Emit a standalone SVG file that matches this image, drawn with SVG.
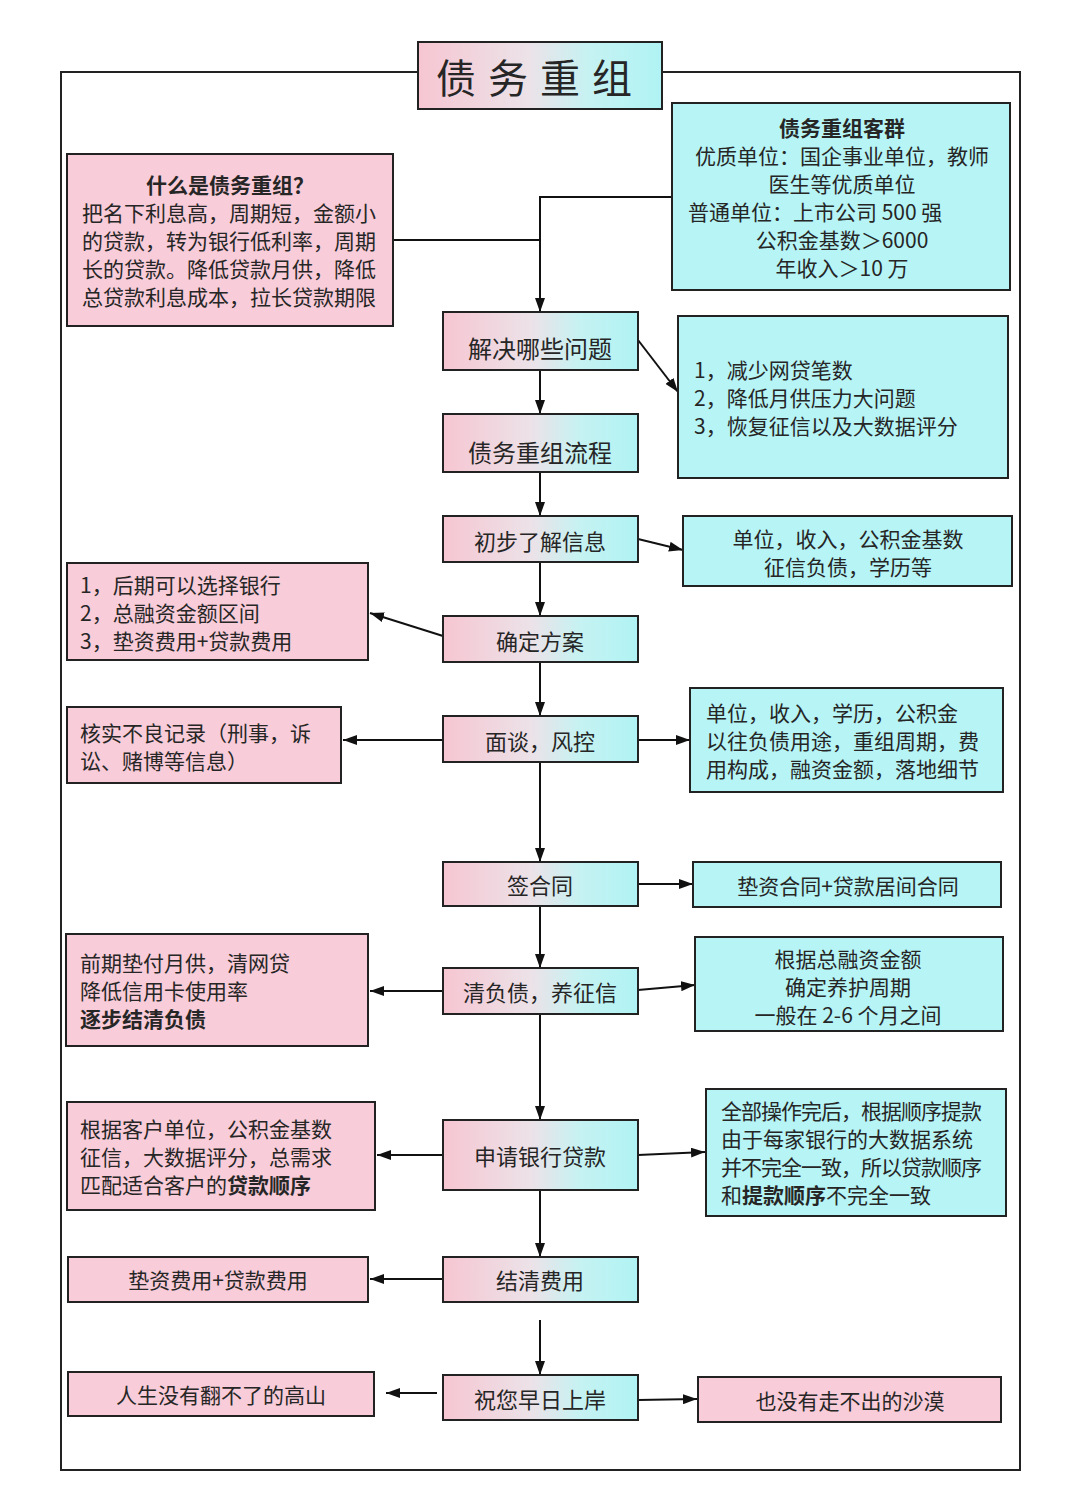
<svg xmlns="http://www.w3.org/2000/svg" width="1080" height="1512" viewBox="0 0 1080 1512">
<defs>
<linearGradient id="pc" x1="0" y1="0" x2="1" y2="0">
<stop offset="0" stop-color="#f6c6d2"/>
<stop offset="0.45" stop-color="#ece2e8"/>
<stop offset="0.7" stop-color="#c6f2f2"/>
<stop offset="1" stop-color="#b0f3f4"/>
</linearGradient>
<marker id="ah" viewBox="0 0 14 10" refX="14" refY="5" markerWidth="14" markerHeight="10" markerUnits="userSpaceOnUse" orient="auto">
<path d="M0,0 L14,5 L0,10 z" fill="#111"/>
</marker>
<style>
.main{fill:url(#pc);stroke:#222;stroke-width:2}
.pink{fill:#f8ccd8;stroke:#222;stroke-width:2}
.cyan{fill:#b6f4f5;stroke:#222;stroke-width:2}
text{font-family:"Noto Sans CJK SC","Noto Sans",sans-serif;fill:#262626;font-size:21px;dominant-baseline:central}
.c{text-anchor:middle}
.m{font-size:22px;text-anchor:middle}
.b{font-weight:bold}
.con line,.con polyline{stroke:#111;stroke-width:2;fill:none}
.arr{marker-end:url(#ah)}
</style>
</defs>
<rect width="1080" height="1512" fill="#ffffff"/>

<g id="frame">
<polyline points="418,72 61,72 61,1470 1020,1470 1020,72 662,72" fill="none" stroke="#222" stroke-width="2"/>
</g>

<g class="con">
<line x1="393" y1="240" x2="540" y2="240"/>
<polyline points="672,197 540,197 540,312" class="arr"/>
<line x1="540" y1="370" x2="540" y2="414" class="arr"/>
<line x1="638" y1="340" x2="678" y2="392" class="arr"/>
<line x1="540" y1="472" x2="540" y2="516" class="arr"/>
<line x1="638" y1="539" x2="683" y2="550" class="arr"/>
<line x1="540" y1="562" x2="540" y2="616" class="arr"/>
<line x1="443" y1="636" x2="370" y2="613" class="arr"/>
<line x1="540" y1="662" x2="540" y2="716" class="arr"/>
<line x1="443" y1="740" x2="343" y2="740" class="arr"/>
<line x1="638" y1="740" x2="690" y2="740" class="arr"/>
<line x1="540" y1="762" x2="540" y2="862" class="arr"/>
<line x1="638" y1="884" x2="693" y2="884" class="arr"/>
<line x1="540" y1="906" x2="540" y2="968" class="arr"/>
<line x1="443" y1="991" x2="370" y2="991" class="arr"/>
<line x1="638" y1="990" x2="695" y2="985" class="arr"/>
<line x1="540" y1="1014" x2="540" y2="1120" class="arr"/>
<line x1="443" y1="1155" x2="377" y2="1155" class="arr"/>
<line x1="638" y1="1155" x2="705" y2="1152" class="arr"/>
<line x1="540" y1="1190" x2="540" y2="1257" class="arr"/>
<line x1="443" y1="1279" x2="370" y2="1279" class="arr"/>
<line x1="540" y1="1320" x2="540" y2="1375" class="arr"/>
<line x1="437" y1="1393" x2="386" y2="1393" class="arr"/>
<line x1="638" y1="1400" x2="697" y2="1399" class="arr"/>
</g>

<g id="title">
<rect x="418" y="42" width="244" height="67" class="main"/>
<text x="540" y="76" class="c" style="font-size:40px;letter-spacing:12px">债务重组</text>
</g>

<g id="what">
<rect x="67" y="154" width="326" height="172" class="pink"/>
<text x="230" y="184" class="c b">什么是债务重组？</text>
<text x="82" y="212">把名下利息高，周期短，金额小</text>
<text x="82" y="240">的贷款，转为银行低利率，周期</text>
<text x="82" y="268">长的贷款。降低贷款月供，降低</text>
<text x="82" y="296">总贷款利息成本，拉长贷款期限</text>
</g>

<g id="clients">
<rect x="672" y="103" width="338" height="187" class="cyan"/>
<text x="842" y="127" class="c b">债务重组客群</text>
<text x="842" y="155" class="c">优质单位：国企事业单位，教师</text>
<text x="842" y="183" class="c">医生等优质单位</text>
<text x="688" y="211">普通单位：上市公司 500 强</text>
<text x="842" y="239" class="c">公积金基数＞6000</text>
<text x="842" y="267" class="c">年收入＞10 万</text>
</g>

<g id="solve">
<rect x="443" y="312" width="195" height="58" class="main"/>
<text x="540" y="347" class="m" style="font-size:24px">解决哪些问题</text>
</g>

<g id="problems">
<rect x="678" y="316" width="330" height="162" class="cyan"/>
<text x="694" y="369">1，减少网贷笔数</text>
<text x="694" y="397">2，降低月供压力大问题</text>
<text x="694" y="425">3，恢复征信以及大数据评分</text>
</g>

<g id="process">
<rect x="443" y="414" width="195" height="58" class="main"/>
<text x="540" y="451" class="m" style="font-size:24px">债务重组流程</text>
</g>

<g id="info">
<rect x="443" y="516" width="195" height="46" class="main"/>
<text x="540" y="540" class="m">初步了解信息</text>
</g>

<g id="info-detail">
<rect x="683" y="516" width="329" height="70" class="cyan"/>
<text x="848" y="538" class="c">单位，收入，公积金基数</text>
<text x="848" y="566" class="c">征信负债，学历等</text>
</g>

<g id="plan">
<rect x="443" y="616" width="195" height="46" class="main"/>
<text x="540" y="640" class="m">确定方案</text>
</g>

<g id="plan-detail">
<rect x="67" y="563" width="301" height="97" class="pink"/>
<text x="80" y="584">1，后期可以选择银行</text>
<text x="80" y="612">2，总融资金额区间</text>
<text x="80" y="640">3，垫资费用+贷款费用</text>
</g>

<g id="interview">
<rect x="443" y="716" width="195" height="46" class="main"/>
<text x="540" y="740" class="m">面谈，风控</text>
</g>

<g id="verify">
<rect x="67" y="707" width="274" height="76" class="pink"/>
<text x="80" y="732">核实不良记录（刑事，诉</text>
<text x="80" y="760">讼、赌博等信息）</text>
</g>

<g id="interview-detail">
<rect x="690" y="688" width="313" height="104" class="cyan"/>
<text x="706" y="712">单位，收入，学历，公积金</text>
<text x="706" y="740">以往负债用途，重组周期，费</text>
<text x="706" y="768">用构成，融资金额，落地细节</text>
</g>

<g id="contract">
<rect x="443" y="862" width="195" height="44" class="main"/>
<text x="540" y="884" class="m">签合同</text>
</g>

<g id="contract-detail">
<rect x="693" y="862" width="308" height="45" class="cyan"/>
<text x="848" y="885" class="c">垫资合同+贷款居间合同</text>
</g>

<g id="clear">
<rect x="443" y="968" width="195" height="46" class="main"/>
<text x="540" y="991" class="m">清负债，养征信</text>
</g>

<g id="clear-left">
<rect x="66" y="934" width="302" height="112" class="pink"/>
<text x="80" y="962">前期垫付月供，清网贷</text>
<text x="80" y="990">降低信用卡使用率</text>
<text x="80" y="1018" class="b">逐步结清负债</text>
</g>

<g id="clear-right">
<rect x="695" y="937" width="308" height="94" class="cyan"/>
<text x="848" y="958" class="c">根据总融资金额</text>
<text x="848" y="986" class="c">确定养护周期</text>
<text x="848" y="1014" class="c">一般在 2-6 个月之间</text>
</g>

<g id="apply">
<rect x="443" y="1120" width="195" height="70" class="main"/>
<text x="540" y="1155" class="m">申请银行贷款</text>
</g>

<g id="apply-left">
<rect x="67" y="1102" width="308" height="108" class="pink"/>
<text x="80" y="1128">根据客户单位，公积金基数</text>
<text x="80" y="1156">征信，大数据评分，总需求</text>
<text x="80" y="1184">匹配适合客户的<tspan class="b">贷款顺序</tspan></text>
</g>

<g id="apply-right">
<rect x="706" y="1089" width="300" height="127" class="cyan"/>
<text x="721" y="1110" style="letter-spacing:-1px">全部操作完后，根据顺序提款</text>
<text x="721" y="1138">由于每家银行的大数据系统</text>
<text x="721" y="1166" style="letter-spacing:-1px">并不完全一致，所以贷款顺序</text>
<text x="721" y="1194">和<tspan class="b">提款顺序</tspan>不完全一致</text>
</g>

<g id="settle">
<rect x="443" y="1257" width="195" height="45" class="main"/>
<text x="540" y="1279" class="m">结清费用</text>
</g>

<g id="settle-detail">
<rect x="68" y="1257" width="300" height="45" class="pink"/>
<text x="218" y="1279" class="c">垫资费用+贷款费用</text>
</g>

<g id="wish">
<rect x="443" y="1375" width="195" height="45" class="main"/>
<text x="540" y="1398" class="m">祝您早日上岸</text>
</g>

<g id="mountain">
<rect x="68" y="1372" width="306" height="44" class="pink"/>
<text x="221" y="1394" class="c">人生没有翻不了的高山</text>
</g>

<g id="desert">
<rect x="698" y="1377" width="303" height="45" class="pink"/>
<text x="850" y="1400" class="c">也没有走不出的沙漠</text>
</g>
</svg>
